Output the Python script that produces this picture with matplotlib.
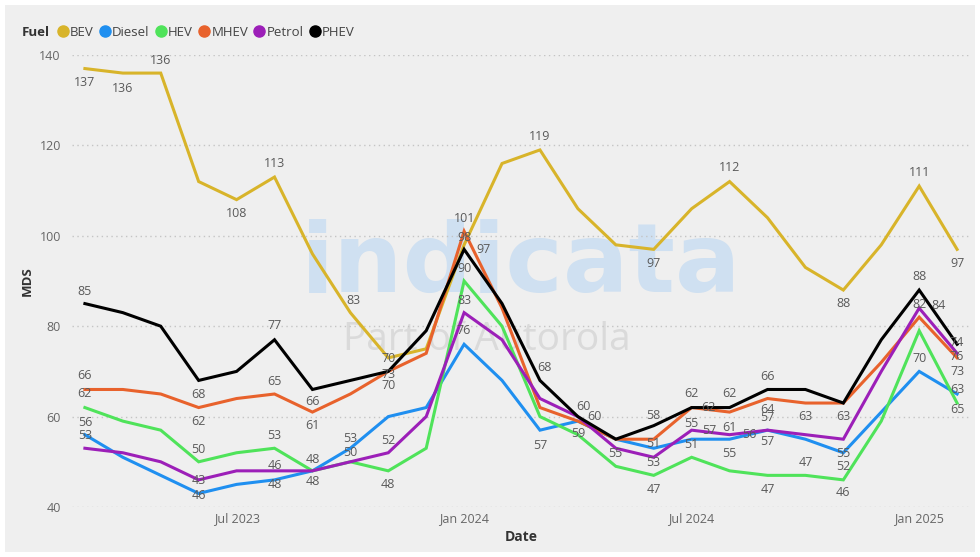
import numpy as np
import matplotlib.pyplot as plt
from matplotlib.lines import Line2D
from matplotlib.patches import Rectangle

plt.rcParams['font.family'] = ['Open Sans', 'DejaVu Sans']

# months Mar 2023 .. Feb 2025
months = ['Mar 2023', 'Apr 2023', 'May 2023', 'Jun 2023', 'Jul 2023', 'Aug 2023',
          'Sep 2023', 'Oct 2023', 'Nov 2023', 'Dec 2023', 'Jan 2024', 'Feb 2024',
          'Mar 2024', 'Apr 2024', 'May 2024', 'Jun 2024', 'Jul 2024', 'Aug 2024',
          'Sep 2024', 'Oct 2024', 'Nov 2024', 'Dec 2024', 'Jan 2025', 'Feb 2025']
tick_months = ['Jul 2023', 'Jan 2024', 'Jul 2024', 'Jan 2025']

bev    = [137, 136, 136, 112, 108, 113, 96, 83, 73, 75, 98, 116, 119, 106, 98, 97, 106, 112, 104, 93, 88, 98, 111, 97]
diesel = [56, 51, 47, 43, 45, 46, 48, 53, 60, 62, 76, 68, 57, 59, 55, 53, 55, 55, 57, 55, 52, 61, 70, 65]
hev    = [62, 59, 57, 50, 52, 53, 48, 50, 48, 53, 90, 80, 60, 56, 49, 47, 51, 48, 47, 47, 46, 59, 79, 63]
mhev   = [66, 66, 65, 62, 64, 65, 61, 65, 70, 74, 101, 84, 62, 59, 55, 55, 62, 61, 64, 63, 63, 72, 82, 73]
petrol = [53, 52, 50, 46, 48, 48, 48, 50, 52, 60, 83, 77, 64, 60, 53, 51, 57, 56, 57, 56, 55, 70, 84, 74]
phev   = [85, 83, 80, 68, 70, 77, 66, 68, 70, 79, 97, 85, 68, 60, 55, 58, 62, 62, 66, 66, 63, 77, 88, 76]

fuels = ['BEV', 'Diesel', 'HEV', 'MHEV', 'Petrol', 'PHEV']
series = [bev, diesel, hev, mhev, petrol, phev]
colors = ['#d8b42a', '#1f8ff0', '#4fe35a', '#e8622c', '#9c1fb8', '#000000']

# which points get a value label, and where it sits (dx, dy in points)
label_at = {
    'BEV': [(0, 0, -10), (1, 0, -11), (2, 0, 9), (4, 0, -10), (5, 0, 10), (7, 2, 9),
            (8, 0, -12), (10, 0, 5), (12, 0, 10), (15, 0, -10), (17, 0, 10),
            (20, 0, -10), (22, 0, 10), (23, 0, -10)],
    'Diesel': [(0, 0, 9), (3, 0, 9), (5, 0, 10), (6, 0, -8), (7, 0, 7), (10, 0, 10),
               (12, 0, -11), (13, 0, -9), (14, 0, -10), (15, 0, -10), (16, 0, 11),
               (17, 0, -10), (18, 0, -8), (20, 0, -10), (22, 0, 9), (23, 0, -11)],
    'HEV': [(0, 0, 10), (3, 0, 9), (5, 0, 9), (6, 0, 8), (8, 0, -10), (10, 0, 9),
            (15, 0, -10), (16, 0, 9), (18, 0, -10), (19, 0, 9), (20, 0, -9), (23, 0, 10)],
    'MHEV': [(0, 0, 10), (3, 0, -10), (5, 0, 9), (6, 0, -10), (8, 0, -10), (10, 0, 9),
             (16, 12, 0), (17, 0, -11), (18, 0, -8), (19, 0, -10), (20, 0, -10),
             (22, 0, 9), (23, 0, -10)],
    'Petrol': [(0, 0, 9), (3, 0, -11), (5, 0, -10), (7, 0, 7), (8, 0, 9), (10, 0, 9),
               (13, 12, 0), (15, 0, 10), (16, 13, 0), (17, 14, 0), (18, 0, 9),
               (20, 0, -10), (22, 14, 2), (23, 0, 8)],
    'PHEV': [(0, 0, 9), (3, 0, -10), (5, 0, 10), (6, 0, -9), (8, 0, 9), (10, 14, 0),
             (12, 3, 9), (13, 4, 7), (15, 0, 7), (16, 0, 10), (17, 0, 10), (18, 0, 9),
             (22, 0, 10), (23, 0, -9)],
}

x = np.arange(len(months))

fig = plt.figure(figsize=(9.8, 5.57), dpi=100)
fig.patch.set_facecolor('white')
fig.patches.append(Rectangle((5 / 980, 5 / 557), 970 / 980, 547 / 557,
                             transform=fig.transFigure, facecolor='#efefef',
                             edgecolor='none', zorder=-10))

ax = fig.add_axes([72 / 980, 50 / 557, 898 / 980, 452 / 557])
ax.set_facecolor('none')

# watermark
ax.text(0.50, 0.535, 'indicata', transform=ax.transAxes, ha='center', va='center',
        fontsize=70, fontweight='bold', color='#cfe0f1', family='DejaVu Sans', zorder=0)
ax.text(0.462, 0.37, 'Part of Autorola', transform=ax.transAxes, ha='center', va='center',
        fontsize=28, color='#dadada', zorder=0)

for name, vals, col in zip(fuels, series, colors):
    ax.plot(x, vals, color=col, lw=2.2, solid_joinstyle='miter', clip_on=False, zorder=3)
    for i, dx, dy in label_at[name]:
        ax.annotate(str(vals[i]), (x[i], vals[i]), xytext=(dx, dy), textcoords='offset points',
                    ha='center', va='center', fontsize=9, color='#5a5a5a', zorder=4)

ax.set_xlim(-0.34, len(months) - 1 + 0.34)
ax.set_ylim(40, 140)
ax.set_yticks([40, 60, 80, 100, 120, 140])
ax.set_xticks([months.index(m) for m in tick_months])
ax.set_xticklabels(tick_months)
ax.grid(axis='y', linestyle=(0, (1, 2.5)), color='#c4c4c4', lw=1)
ax.grid(axis='x', visible=False)
for s in ax.spines.values():
    s.set_visible(False)
ax.tick_params(length=0, labelsize=9, labelcolor='#666666', pad=8)
ax.tick_params(axis='x', pad=4)

ax.set_xlabel('Date', fontsize=10, fontweight='bold', color='#333333', labelpad=3)
ax.set_ylabel('MDS', fontsize=9.5, fontweight='bold', color='#333333', labelpad=4)

# legend row
fig.text(22 / 980, 1 - 32 / 557, 'Fuel', fontsize=9.5, fontweight='bold', color='#333333',
         va='center', ha='left')
handles = [Line2D([], [], marker='o', ls='none', color=c, markersize=8) for c in colors]
fig.legend(handles, fuels, loc='center left', bbox_to_anchor=(52 / 980, 1 - 32 / 557),
           ncol=6, frameon=False, fontsize=9.5, handlelength=0.6, handletextpad=0.25,
           columnspacing=0.55, borderpad=0, labelcolor='#444444')

fig.savefig('out.png', dpi=100, facecolor=fig.get_facecolor())
